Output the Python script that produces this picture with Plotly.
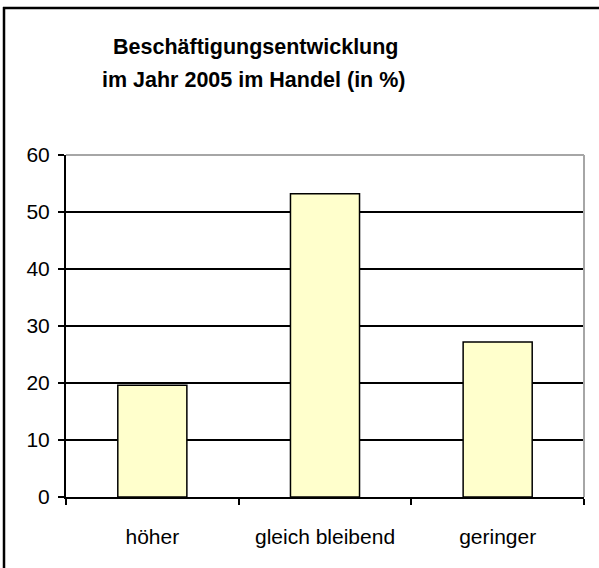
import plotly.graph_objects as go

categories = ["höher", "gleich bleibend", "geringer"]
values = [19.6, 53.2, 27.2]
y_ticks = [0, 10, 20, 30, 40, 50, 60]
title_lines = ["Beschäftigungsentwicklung", "im Jahr 2005 im Handel (in %)"]

W, H = 599, 568
L, R, T, B = 66, 15, 155, 71
pw = W - L - R
ph = H - T - B

def px_x(x):
    return (x - L) / pw

def px_y(y):
    return (H - B - y) / ph

fig = go.Figure()
fig.add_trace(go.Bar(
    x=categories, y=values,
    marker=dict(color="#FFFFCC", line=dict(color="black", width=1.5)),
    width=0.4,
))

font = "Liberation Sans, Arial, sans-serif"

fig.update_layout(
    width=W, height=H,
    margin=dict(l=L, r=R, t=T, b=B, pad=0),
    paper_bgcolor="white", plot_bgcolor="white",
    showlegend=False,
    font=dict(family=font, color="black", size=21),
    xaxis=dict(
        type="category", tickson="boundaries",
        showline=True, linecolor="black", linewidth=2,
        ticks="outside", ticklen=6, tickwidth=2, tickcolor="black",
        showgrid=False, tickfont=dict(size=21, family=font),
        ticklabelstandoff=20,
    ),
    yaxis=dict(
        range=[0, 60], tickvals=y_ticks,
        showline=True, linecolor="black", linewidth=2,
        ticks="outside", ticklen=6, tickwidth=2, tickcolor="black",
        showgrid=True, gridcolor="black", gridwidth=1.5,
        zeroline=False, tickfont=dict(size=21, family=font),
        ticklabelstandoff=4,
    ),
    shapes=[
        dict(type="line", xref="paper", yref="paper",
             x0=px_x(3), x1=px_x(W + 10), y0=px_y(8), y1=px_y(8),
             line=dict(color="black", width=2.5), layer="above"),
        dict(type="line", xref="paper", yref="paper",
             x0=px_x(4), x1=px_x(4), y0=px_y(7), y1=px_y(H + 10),
             line=dict(color="black", width=2.5), layer="above"),
        dict(type="line", xref="paper", yref="paper", x0=0, x1=1, y0=1, y1=1,
             line=dict(color="#A6A6A6", width=2), layer="above"),
        dict(type="line", xref="paper", yref="paper", x0=1, x1=1, y0=0, y1=1,
             line=dict(color="#A6A6A6", width=2), layer="above"),
    ],
    annotations=[
        dict(text="<b>%s</b>" % title_lines[0], xref="paper", yref="paper",
             x=px_x(256), y=px_y(47), showarrow=False, xanchor="center", yanchor="middle",
             font=dict(size=21.5, family=font, color="black")),
        dict(text="<b>%s</b>" % title_lines[1], xref="paper", yref="paper",
             x=px_x(254), y=px_y(80), showarrow=False, xanchor="center", yanchor="middle",
             font=dict(size=21.5, family=font, color="black")),
    ],
)

fig.write_html("out.html", config={"displayModeBar": False},
               post_script="document.body.style.margin='0';")
